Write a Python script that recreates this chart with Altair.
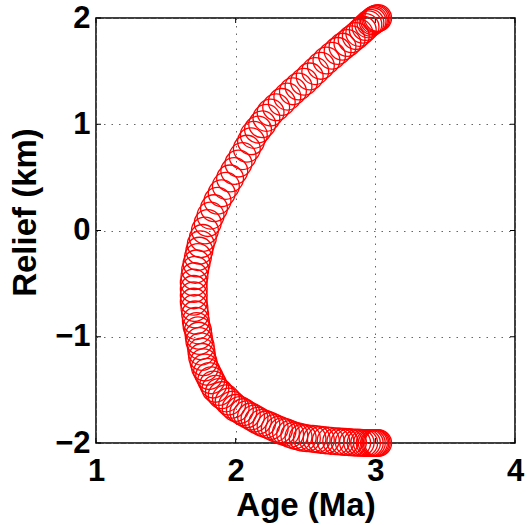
import altair as alt
import pandas as pd

# Age (Ma) and relief (km) of each modelled sample, from the upper end of the
# profile down to the lower end.
age = [
    3.02, 3.01, 3.00, 2.99, 2.98, 2.965, 2.95, 2.93, 2.91, 2.885,
    2.86, 2.83, 2.80, 2.765, 2.73, 2.69, 2.65, 2.61, 2.57, 2.53,
    2.49, 2.45, 2.41, 2.37, 2.33, 2.29, 2.25, 2.22, 2.19, 2.16,
    2.13, 2.11, 2.08, 2.05, 2.02, 1.99, 1.96, 1.93, 1.90, 1.87,
    1.845, 1.82, 1.80, 1.78, 1.765, 1.75, 1.74, 1.73, 1.72, 1.71,
    1.705, 1.70, 1.70, 1.70, 1.70, 1.705, 1.71, 1.715, 1.72, 1.73,
    1.735, 1.74, 1.75, 1.755, 1.76, 1.77, 1.78, 1.795, 1.81, 1.825,
    1.84, 1.855, 1.88, 1.90, 1.93, 1.95, 1.975, 2.00, 2.03, 2.055,
    2.08, 2.11, 2.135, 2.16, 2.19, 2.22, 2.25, 2.28, 2.31, 2.335,
    2.36, 2.39, 2.42, 2.45, 2.48, 2.51, 2.55, 2.58, 2.61, 2.645,
    2.68, 2.72, 2.75, 2.78, 2.81, 2.84, 2.87, 2.895, 2.92, 2.94,
    2.96, 2.975, 2.99, 3.00, 3.01, 3.02,
]
relief = [
    2.00, 1.995, 1.99, 1.98, 1.97, 1.955, 1.94, 1.915, 1.89, 1.86,
    1.83, 1.80, 1.765, 1.73, 1.69, 1.645, 1.60, 1.55, 1.50, 1.45,
    1.40, 1.355, 1.31, 1.26, 1.21, 1.16, 1.11, 1.06, 1.00, 0.95,
    0.90, 0.84, 0.77, 0.70, 0.63, 0.56, 0.49, 0.42, 0.35, 0.28,
    0.21, 0.14, 0.07, 0.00, -0.07, -0.13, -0.19, -0.25, -0.31, -0.37,
    -0.43, -0.49, -0.55, -0.61, -0.67, -0.73, -0.79, -0.85, -0.90, -0.94,
    -0.99, -1.04, -1.09, -1.14, -1.19, -1.24, -1.29, -1.33, -1.37, -1.41,
    -1.45, -1.49, -1.52, -1.55, -1.58, -1.61, -1.64, -1.67, -1.69, -1.71,
    -1.73, -1.75, -1.77, -1.79, -1.81, -1.825, -1.84, -1.86, -1.875, -1.89,
    -1.90, -1.915, -1.93, -1.94, -1.95, -1.955, -1.96, -1.965, -1.97, -1.975,
    -1.98, -1.983, -1.986, -1.99, -1.992, -1.995, -1.997, -1.998, -2.00, -2.00,
    -2.00, -2.00, -2.00, -2.00, -2.00, -2.00,
]

x_ticks = [1, 2, 3, 4]
y_ticks = [-2, -1, 0, 1, 2]

W, H = 419, 425
TICK = 5

samples = pd.DataFrame({"age": age, "relief": relief})
xt = pd.DataFrame({"age": x_ticks})
yt = pd.DataFrame({"relief": y_ticks})

x_scale = alt.Scale(domain=[1, 4], nice=False, zero=False)
y_scale = alt.Scale(domain=[-2, 2], nice=False, zero=False)


def X(**kw):
    return alt.X("age:Q", scale=x_scale, title="Age (Ma)",
                 axis=alt.Axis(values=x_ticks), **kw)


def Y(**kw):
    return alt.Y("relief:Q", scale=y_scale, title="Relief (km)",
                 axis=alt.Axis(values=y_ticks), **kw)


circles = alt.Chart(samples).mark_point(
    shape="circle", filled=False, color="#ff0000", size=720, strokeWidth=1.3,
    opacity=1,
).encode(x=X(), y=Y())

# short inward tick marks on all four sides of the box
tick_style = dict(color="black", strokeWidth=1)
x_bottom = alt.Chart(xt).mark_rule(**tick_style).encode(
    x=X(), y=alt.value(H), y2=alt.value(H - TICK))
x_top = alt.Chart(xt).mark_rule(**tick_style).encode(
    x=X(), y=alt.value(0), y2=alt.value(TICK))
y_left = alt.Chart(yt).mark_rule(**tick_style).encode(
    y=Y(), x=alt.value(0), x2=alt.value(TICK))
y_right = alt.Chart(yt).mark_rule(**tick_style).encode(
    y=Y(), x=alt.value(W), x2=alt.value(W - TICK))

FONT = "Liberation Sans"

chart = (
    alt.layer(x_bottom, x_top, y_left, y_right, circles)
    .properties(
        width=W, height=H,
        padding={"left": 96, "top": 18, "right": 15, "bottom": 82},
        autosize=alt.AutoSizeParams(type="none"),
        background="white",
    )
    .configure_view(stroke="black", strokeWidth=1.5)
    .configure_axis(
        domain=False,
        ticks=False,
        grid=True,
        gridColor="#666666",
        gridDash=[1.5, 6],
        gridWidth=1,
        labelFont=FONT,
        labelFontSize=31,
        labelFontWeight="bold",
        labelColor="black",
        titleFont=FONT,
        titleFontSize=33,
        titleFontWeight="bold",
        titleColor="black",
    )
    .configure_axisX(
        labelPadding=37,
        labelBaseline="alphabetic",
        labelFlush=False,
        titleBaseline="alphabetic",
        titleY=72,
    )
    .configure_axisY(
        labelPadding=6,
        labelBaseline="middle",
        labelFlush=False,
        titleAngle=-90,
        titleBaseline="alphabetic",
        titleAlign="center",
        titleX=-61,
        titleY=194,
    )
)

chart.save("out.html", embed_options={"renderer": "svg", "actions": False})
